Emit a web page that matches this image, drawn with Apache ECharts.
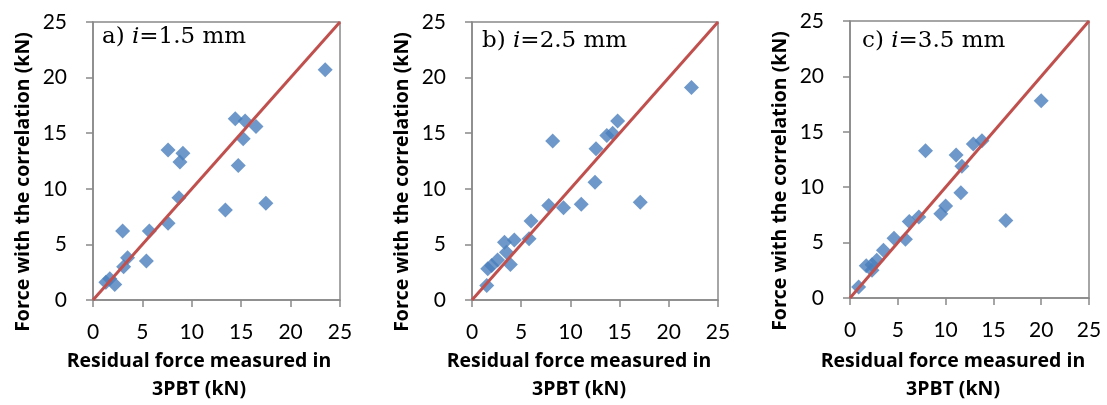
<!DOCTYPE html>
<html><head><meta charset="utf-8">
<script src="https://cdn.jsdelivr.net/npm/echarts@6/dist/echarts.min.js"></script>
<style>html,body{margin:0;padding:0;background:#fff}#c{width:1107px;height:405px}</style>
</head><body><div id="c"></div>
<script>
// ---- data ----
const tickValues = [0, 5, 10, 15, 20, 25];
const panelLetters = ['a)', 'b)', 'c)'];
const spacingLabels = ['1.5', '2.5', '3.5'];
const yAxisTitle = 'Force with the correlation (kN)';
const xAxisTitle = 'Residual force measured in\n3PBT (kN)';
const lineOfEquality = [[0, 0], [25, 25]];

const measuredA = [23.5,14.4,15.4,16.5,15.2,7.6,9.1,8.8,14.7,8.7,13.4,17.5,7.6,3.0,5.7,3.5,5.4,3.1,1.7,1.3,2.2];
const correlA   = [20.7,16.3,16.1,15.6,14.5,13.5,13.2,12.4,12.1,9.2,8.1,8.7,6.9,6.2,6.2,3.8,3.5,3.0,1.9,1.6,1.4];

const measuredB = [22.3,14.8,13.7,14.3,8.2,12.6,12.5,7.8,9.3,11.1,17.1,6.0,5.8,4.3,3.3,3.5,3.9,2.6,2.0,1.6,1.5];
const correlB   = [19.1,16.1,14.8,15.0,14.3,13.6,10.6,8.5,8.3,8.6,8.8,7.1,5.5,5.4,5.2,4.3,3.2,3.6,3.1,2.8,1.3];

const measuredC = [20.0,13.8,12.9,7.9,11.1,11.7,11.6,10.0,9.5,16.3,7.2,6.2,5.8,4.6,3.5,2.8,2.3,1.7,2.3,0.9];
const correlC   = [17.8,14.2,13.9,13.3,12.9,11.9,9.5,8.3,7.6,7.0,7.3,6.9,5.3,5.4,4.3,3.4,3.0,2.9,2.5,1.0];

// ---- layout ----
const panels = [
  {xs: measuredA, ys: correlA, grid: {left: 93, top: 22, width: 247, height: 278}, ann: [102, 42], yt: [23, 182], xt: [199, 347]},
  {xs: measuredB, ys: correlB, grid: {left: 472, top: 22, width: 246, height: 278}, ann: [482, 46], yt: [402, 182], xt: [579, 347]},
  {xs: measuredC, ys: correlC, grid: {left: 850, top: 21, width: 239, height: 277}, ann: [862, 46], yt: [780, 181], xt: [953, 347]}
];

const axisColor = '#898989';
const grids = [], xAxes = [], yAxes = [], series = [], titles = [], graphics = [];
panels.forEach((p, i) => {
  grids.push(Object.assign({show: true, borderColor: axisColor, borderWidth: 1.5, backgroundColor: 'transparent'}, p.grid));
  const common = {
    gridIndex: i, type: 'value', min: tickValues[0], max: tickValues[tickValues.length - 1],
    interval: tickValues[1] - tickValues[0],
    axisLine: {show: true, onZero: false, lineStyle: {color: axisColor, width: 1.5}},
    axisTick: {show: true, inside: false, length: 7, lineStyle: {color: axisColor, width: 1.5}},
    splitLine: {show: false},
    axisLabel: {color: '#000', fontFamily: 'Lato', fontSize: 21}
  };
  xAxes.push(Object.assign({}, common, {axisLabel: Object.assign({}, common.axisLabel, {margin: 22})}));
  yAxes.push(Object.assign({}, common, {axisLabel: Object.assign({}, common.axisLabel, {margin: 26})}));
  series.push({
    type: 'scatter', xAxisIndex: i, yAxisIndex: i, symbol: 'diamond', symbolSize: 15,
    itemStyle: {color: '#4A7EBB'}, z: 2,
    data: p.xs.map((x, k) => [x, p.ys[k]])
  });
  series.push({
    type: 'line', xAxisIndex: i, yAxisIndex: i, symbol: 'none', z: 3,
    lineStyle: {color: '#C0504D', width: 3}, data: lineOfEquality, animation: false
  });
  titles.push({
    left: p.ann[0], top: p.ann[1] - 16, padding: 0,
    text: '{n|' + panelLetters[i] + ' }{it|i}{n|=' + spacingLabels[i] + ' mm}',
    textStyle: {rich: {
      n: {fontFamily: 'DejaVu Serif', fontSize: 23, color: '#000', fontWeight: 'normal'},
      it: {fontFamily: 'DejaVu Serif', fontSize: 23, color: '#000', fontStyle: 'italic', fontWeight: 'normal'}
    }}
  });
  graphics.push({
    type: 'text', x: p.yt[0], y: p.yt[1], rotation: Math.PI / 2,
    style: {text: yAxisTitle, fontFamily: 'Open Sans', fontWeight: 'bold', fontSize: 19.5, fill: '#000',
            align: 'center', verticalAlign: 'middle'}
  });
  graphics.push({
    type: 'text', x: p.xt[0], y: p.xt[1],
    style: {text: xAxisTitle, fontFamily: 'Open Sans', fontWeight: 'bold', fontSize: 19.5, fill: '#000',
            align: 'center', verticalAlign: 'top', lineHeight: 28}
  });
});

const chart = echarts.init(document.getElementById('c'), null, {renderer: 'canvas'});
chart.setOption({
  backgroundColor: '#fff',
  animation: false,
  title: titles,
  grid: grids, xAxis: xAxes, yAxis: yAxes, series: series,
  graphic: graphics
});
</script></body></html>
